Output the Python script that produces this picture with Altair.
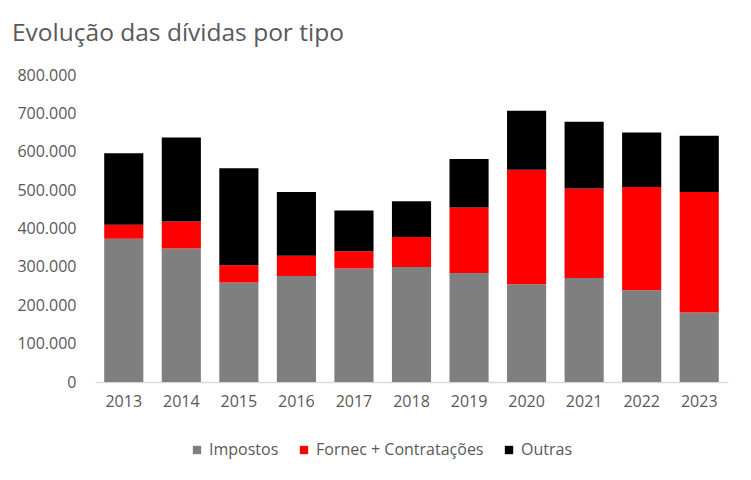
import altair as alt
import pandas as pd

anos = ["2013", "2014", "2015", "2016", "2017", "2018", "2019", "2020", "2021", "2022", "2023"]
impostos = [373000, 348000, 259000, 276000, 296000, 300000, 284000, 255000, 271000, 239000, 181000]
fornec = [37000, 70000, 45000, 53000, 45000, 78000, 171000, 298000, 233000, 269000, 314000]
outras = [186000, 219000, 253000, 166000, 106000, 93000, 126000, 154000, 174000, 142000, 147000]
series = ["Impostos", "Fornec + Contratações", "Outras"]
cores = ["#7f7f7f", "#ff0000", "#000000"]

rows = []
for i, a in enumerate(anos):
    for k, (s, v) in enumerate(zip(series, [impostos[i], fornec[i], outras[i]])):
        rows.append({"ano": a, "serie": s, "valor": v, "ordem": k})
df = pd.DataFrame(rows)

FONT = "Open Sans"
TXT = "#595959"

chart = alt.Chart(df).mark_bar().encode(
    x=alt.X("ano:N", sort=anos, title=None,
            scale=alt.Scale(paddingInner=0.32, paddingOuter=0.16),
            axis=alt.Axis(labelAngle=0, ticks=False, domain=True, domainColor="#d9d9d9",
                          domainWidth=1.5, labelFontSize=16, labelColor=TXT, labelFont=FONT,
                          labelPadding=11, grid=False)),
    y=alt.Y("valor:Q", stack="zero", title=None,
            scale=alt.Scale(domain=[0, 800000], nice=False),
            axis=alt.Axis(values=[0, 100000, 200000, 300000, 400000, 500000, 600000, 700000, 800000],
                          labelExpr="replace(format(datum.value, ','), ',', '.')",
                          ticks=False, domain=False, grid=False, labelFontSize=16,
                          labelColor=TXT, labelFont=FONT, labelPadding=19)),
    color=alt.Color("serie:N", sort=series,
                    scale=alt.Scale(domain=series, range=cores),
                    legend=alt.Legend(title=None, orient="none", direction="horizontal",
                                      legendX=94, legendY=367, symbolType="square",
                                      symbolSize=70, symbolStrokeWidth=0,
                                      labelFontSize=16, labelColor=TXT, labelFont=FONT,
                                      labelLimit=0, columnPadding=17, labelOffset=4)),
    order=alt.Order("ordem:Q"),
).properties(
    width=633,
    height=307,
    padding={"left": 87, "top": 67, "right": 15, "bottom": 80},
    autosize="none",
    title=alt.TitleParams("Evolução das dívidas por tipo", anchor="start", frame="group",
                          dx=-83, offset=21, fontSize=24.5, fontWeight="normal",
                          color=TXT, font=FONT),
).configure_view(stroke=None)

chart.save("out.html", embed_options={"renderer": "svg", "actions": False})
